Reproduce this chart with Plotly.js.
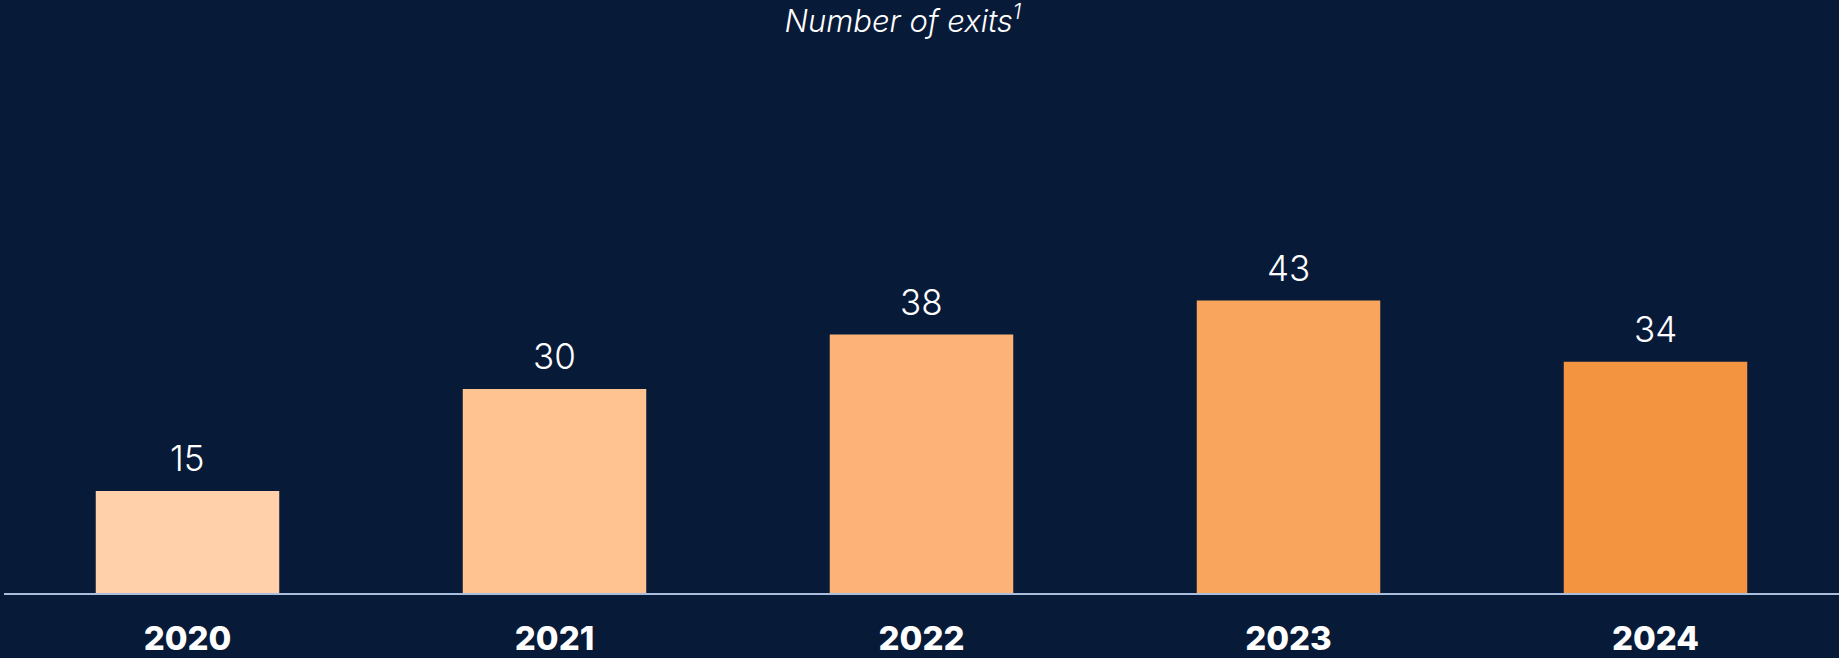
<!DOCTYPE html>
<html><head><meta charset="utf-8">
<script src="https://cdn.plot.ly/plotly-3.0.1.min.js"></script>
<style>html,body{margin:0;padding:0;background:#071A38;}#chart{width:1839px;height:658px;}</style>
</head><body><div id="chart"></div>
<script>
const years = ['2020', '2021', '2022', '2023', '2024'];
const exits = [15, 30, 38, 43, 34];
const barColors = ['#FFD0AA', '#FFC291', '#FDB277', '#F9A55D', '#F39441'];
const titleText = 'Number of exits<sup>1</sup>';

const trace = {
  type: 'bar', x: years, y: exits,
  marker: {color: barColors, line: {width: 0}},
  width: 0.5, hoverinfo: 'none'
};

const annotations = years.map((yr, i) => ({
  x: yr, y: exits[i], xref: 'x', yref: 'y',
  text: String(exits[i]), showarrow: false,
  yanchor: 'bottom', yshift: 10,
  font: {family: 'Inter, "Open Sans", sans-serif', size: 35, color: '#FFFFFF', weight: 300}
}));

const layout = {
  width: 1839, height: 658,
  paper_bgcolor: '#071A38', plot_bgcolor: '#071A38',
  margin: {l: 4, r: 0, t: 40, b: 65},
  showlegend: false,
  title: {text: titleText, x: 0.491, xanchor: 'center', y: 0.968, yanchor: 'middle',
    font: {family: 'Inter, "Open Sans", sans-serif', size: 31, color: '#FFFFFF', style: 'italic', weight: 300}},
  xaxis: {showgrid: false, zeroline: false, showline: true, linecolor: '#A9BEDD', linewidth: 2,
    ticks: '', ticklabelstandoff: 15,
    tickfont: {family: 'Inter, "Open Sans", sans-serif', size: 33, color: '#FFFFFF', weight: 800}},
  yaxis: {range: [0, 81.3], visible: false, showgrid: false, zeroline: false},
  annotations: annotations
};

Plotly.newPlot('chart', [trace], layout, {displayModeBar: false, staticPlot: true});
</script></body></html>
